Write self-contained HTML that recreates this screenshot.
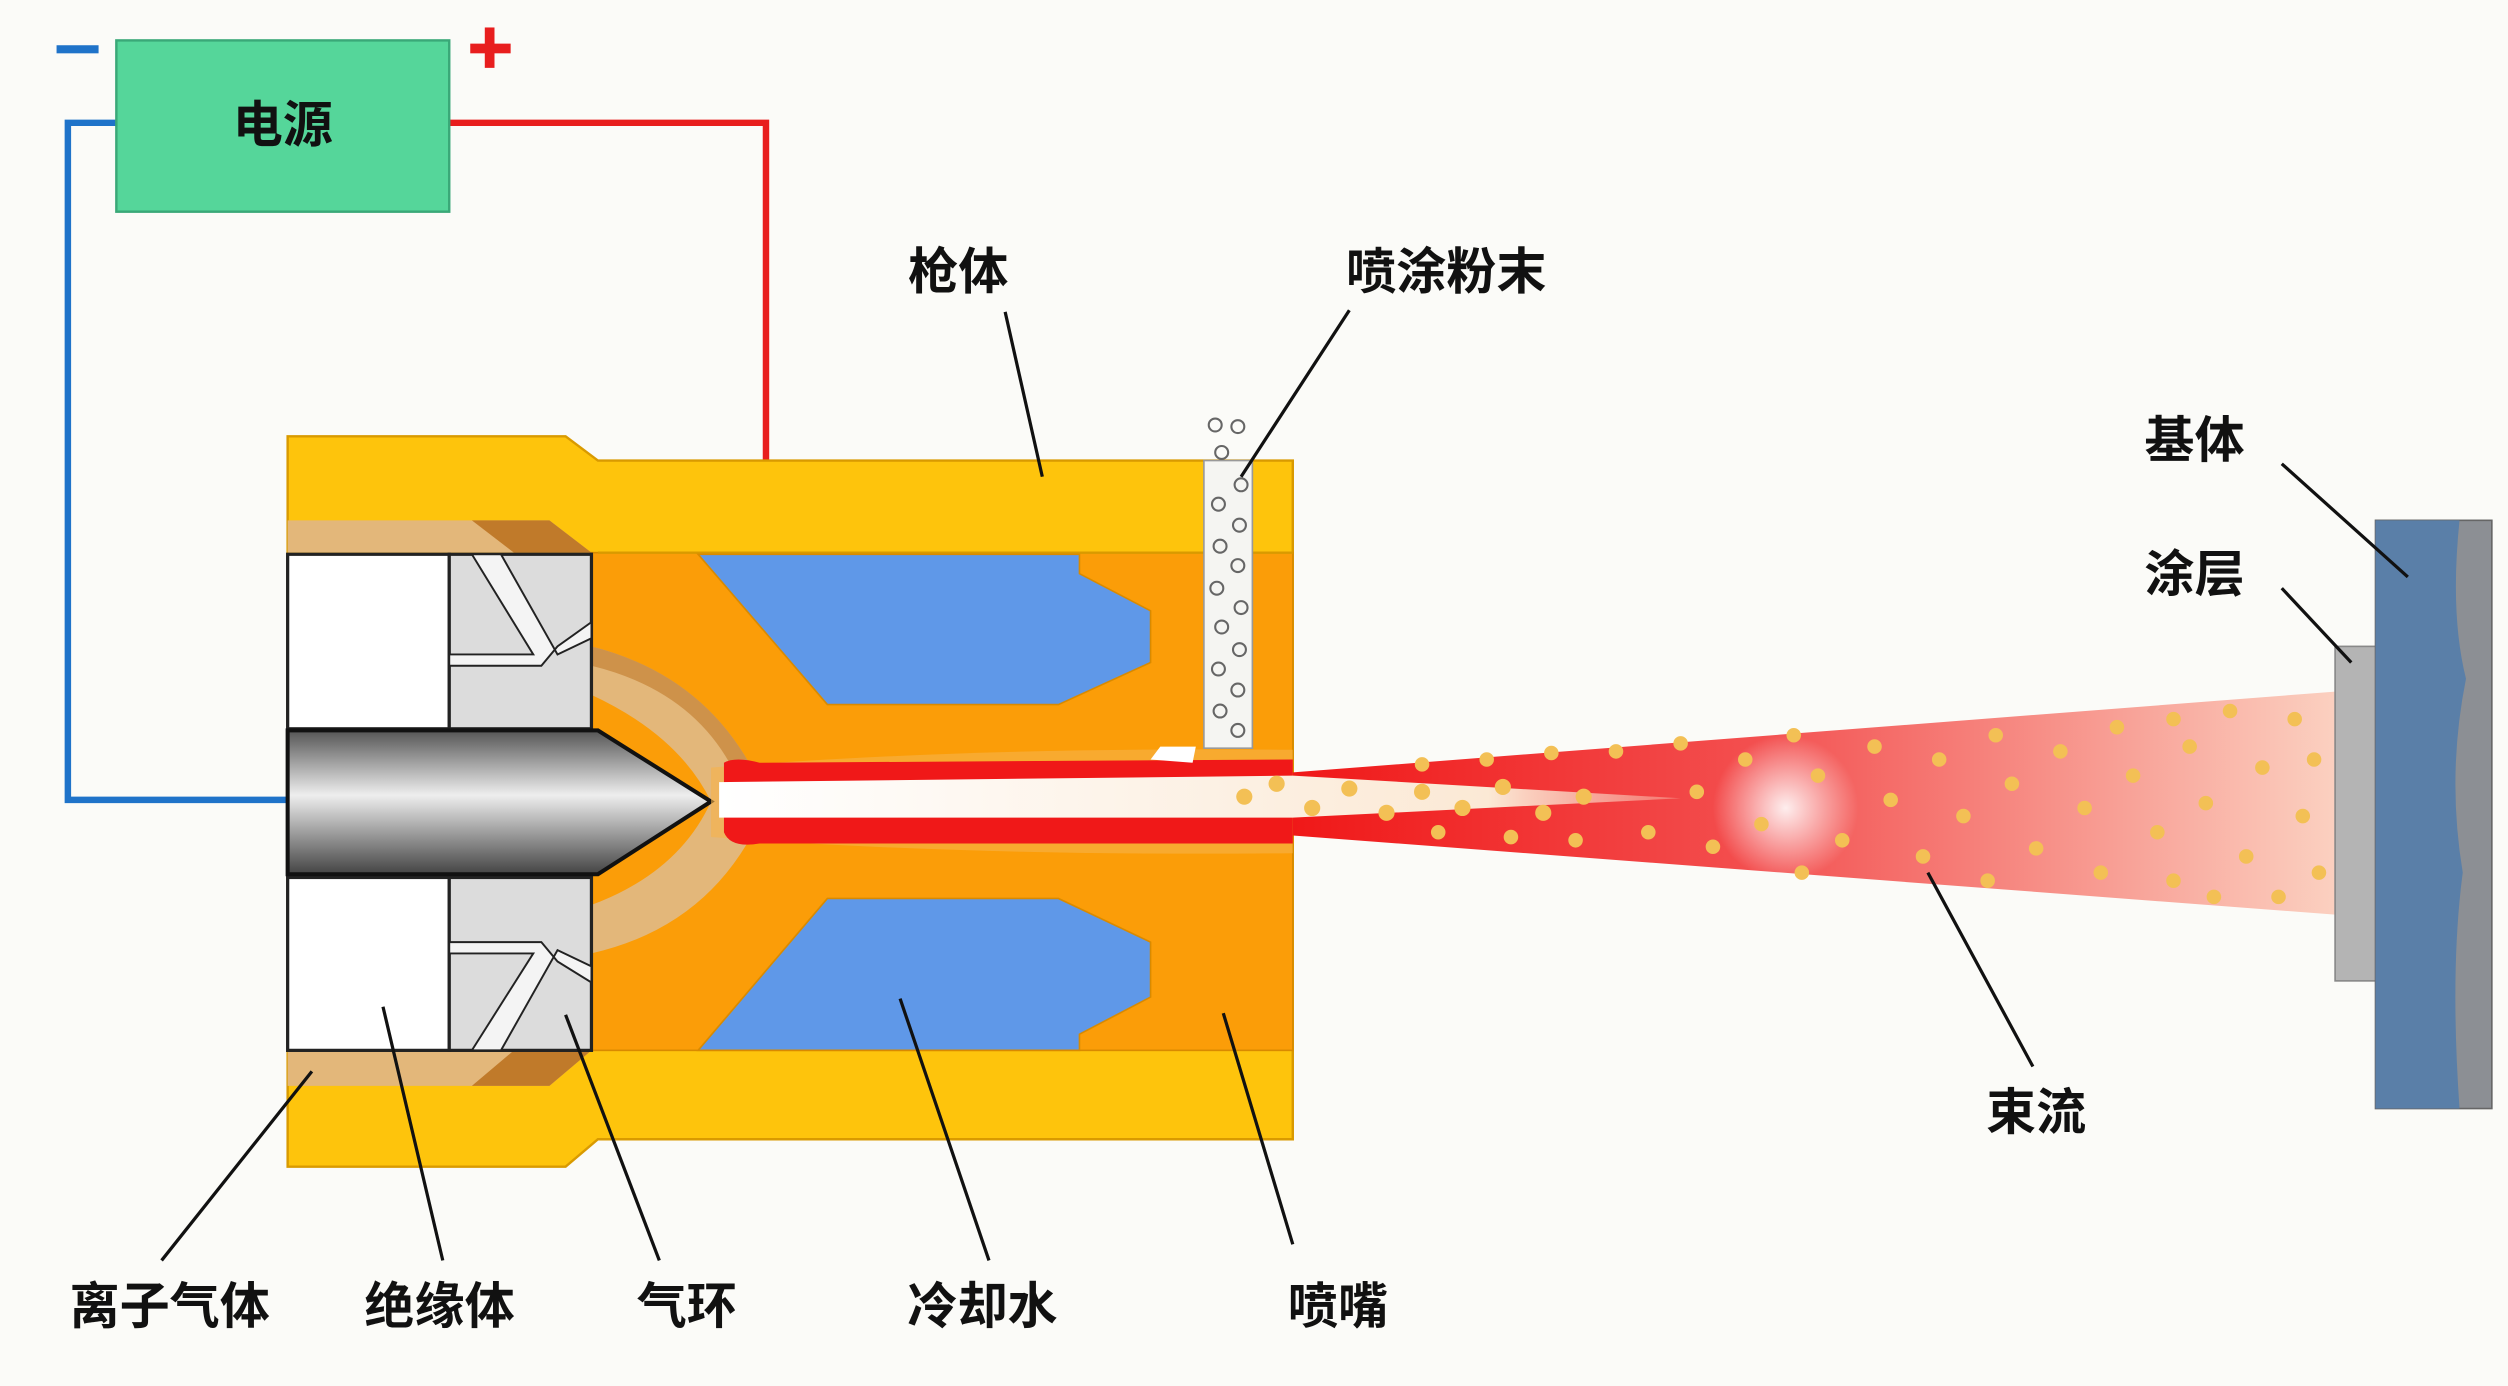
<!DOCTYPE html>
<html><head><meta charset="utf-8"><style>
html,body{margin:0;padding:0;background:#fbfbf8;}
svg{display:block;}
text{font-family:"Liberation Sans","Noto Sans CJK SC",sans-serif;font-weight:bold;fill:#111;font-size:31px;}
</style></head><body>
<svg width="2508" height="1386" viewBox="0 0 1552 857.7" preserveAspectRatio="none" xmlns="http://www.w3.org/2000/svg">
<defs>
<linearGradient id="cath" x1="0" y1="0" x2="0" y2="1">
<stop offset="0" stop-color="#555"/><stop offset="0.45" stop-color="#eee"/><stop offset="1" stop-color="#444"/></linearGradient>
<linearGradient id="plume" x1="0" y1="0" x2="1" y2="0">
<stop offset="0" stop-color="#f01818"/><stop offset="0.45" stop-color="#f35050"/><stop offset="1" stop-color="#fbd0c0"/></linearGradient>
<radialGradient id="glow"><stop offset="0" stop-color="#fff" stop-opacity="0.9"/><stop offset="1" stop-color="#fff" stop-opacity="0"/></radialGradient>
<linearGradient id="jet" x1="0" y1="0" x2="1" y2="0">
<stop offset="0" stop-color="#fff"/><stop offset="0.8" stop-color="#fbe9d5"/><stop offset="1" stop-color="#fbe9d5" stop-opacity="0.3"/></linearGradient>
</defs>
<rect width="1552" height="858" fill="#fbfbf8"/>
<path d="M278 76 H474 V286" fill="none" stroke="#e81e1e" stroke-width="4"/>
<path d="M72 76 H42 V495 H180" fill="none" stroke="#1f73c9" stroke-width="4"/>
<rect x="72" y="25" width="206" height="106" fill="#55d69a" stroke="#3aa878" stroke-width="1.5"/>
<text x="175" y="88" text-anchor="middle" font-size="32">电源</text>
<rect x="35" y="28" width="26" height="5" fill="#1f73c9"/>
<rect x="291" y="27" width="25" height="6" fill="#e81e1e"/><rect x="300" y="17" width="6" height="25" fill="#e81e1e"/>
<path d="M178 270 H350 L370 285 H800 V705 H370 L350 722 H178 Z" fill="#fec40c" stroke="#d99a00" stroke-width="1.5"/>
<rect x="365" y="342" width="435" height="308" fill="#fb9d08" stroke="#d98a00" stroke-width="1"/>
<line x1="370" y1="342" x2="800" y2="342" stroke="#d99a00" stroke-width="1.5"/>
<path d="M178 322 H340 L366 342 H178 Z" fill="#e3b77a"/>
<path d="M292 322 H340 L366 342 H318 Z" fill="#c07a2a"/>
<path d="M178 650 H366 L340 672 H178 Z" fill="#e3b77a"/>
<path d="M318 650 H366 L340 672 H292 Z" fill="#c07a2a"/>
<path d="M366 400 Q445 420 475 496 Q445 572 366 590 L366 560 Q420 540 440 496 Q420 455 366 430 Z" fill="#e3b77a"/>
<path d="M366 400 Q445 420 475 496 L462 496 Q440 430 366 412 Z" fill="#c07a2a" opacity="0.6"/>
<rect x="178" y="343" width="100" height="108" fill="#fff" stroke="#222" stroke-width="2"/>
<rect x="178" y="543" width="100" height="107" fill="#fff" stroke="#222" stroke-width="2"/>
<rect x="278" y="343" width="88" height="108" fill="#dcdcdc" stroke="#222" stroke-width="2"/>
<rect x="278" y="543" width="88" height="107" fill="#dcdcdc" stroke="#222" stroke-width="2"/>
<path d="M292 343 L330 405 L278 405 L278 412 L335 412 L345 400 L366 385 L366 395 L345 405 L310 343 Z" fill="#f4f4f4" stroke="#222" stroke-width="1.2"/>
<path d="M292 650 L330 590 L278 590 L278 583 L335 583 L345 595 L366 608 L366 598 L345 588 L310 650 Z" fill="#f4f4f4" stroke="#222" stroke-width="1.2"/>
<path d="M432 343 H668 V355 L712 378 V410 L655 436 H512 Z" fill="#5f98e8" stroke="#d98a00" stroke-width="1"/>
<path d="M512 556 H655 L712 583 V617 L668 640 V650 H432 Z" fill="#5f98e8" stroke="#d98a00" stroke-width="1"/>
<path d="M178 452 H370 L440 496 L370 541 H178 Z" fill="url(#cath)" stroke="#111" stroke-width="2.5"/>
<path d="M800 478 L1445 428 V566 L800 517 Z" fill="url(#plume)"/>
<circle cx="1105" cy="500" r="45" fill="url(#glow)"/>
<path d="M440 475 Q600 462 800 464 L800 528 Q600 530 440 518 Z" fill="#f6b24a" opacity="0.6"/>
<path d="M448 472 Q455 468 470 472 L800 470 L800 522 L470 522 Q452 525 448 515 Z" fill="#f01818"/>
<path d="M445 484 L800 480 L1040 494 L800 506 L445 506 Z" fill="url(#jet)"/>
<path d="M712 470 L718 462 L740 462 L738 472 Z" fill="#fff"/>
<rect x="745" y="285" width="30" height="178" fill="#f5f5f2" stroke="#999" stroke-width="1"/>
<g fill="none" stroke="#666" stroke-width="1.3">
<circle cx="752" cy="263" r="4"/><circle cx="766" cy="264" r="4"/><circle cx="756" cy="280" r="4"/>
<circle cx="768" cy="300" r="4"/><circle cx="754" cy="312" r="4"/><circle cx="767" cy="325" r="4"/><circle cx="755" cy="338" r="4"/>
<circle cx="766" cy="350" r="4"/><circle cx="753" cy="364" r="4"/><circle cx="768" cy="376" r="4"/><circle cx="756" cy="388" r="4"/>
<circle cx="767" cy="402" r="4"/><circle cx="754" cy="414" r="4"/><circle cx="766" cy="427" r="4"/><circle cx="755" cy="440" r="4"/><circle cx="766" cy="452" r="4"/>
</g>
<g fill="#f3c055">
<circle cx="770" cy="493" r="5"/><circle cx="790" cy="485" r="5"/><circle cx="812" cy="500" r="5"/><circle cx="835" cy="488" r="5"/><circle cx="858" cy="503" r="5"/>
<circle cx="880" cy="490" r="5"/><circle cx="905" cy="500" r="5"/><circle cx="930" cy="487" r="5"/><circle cx="955" cy="503" r="5"/><circle cx="980" cy="493" r="5"/>
<circle cx="880" cy="473" r="4.5"/><circle cx="920" cy="470" r="4.5"/><circle cx="960" cy="466" r="4.5"/><circle cx="1000" cy="465" r="4.5"/><circle cx="1040" cy="460" r="4.5"/>
<circle cx="890" cy="515" r="4.5"/><circle cx="935" cy="518" r="4.5"/><circle cx="975" cy="520" r="4.5"/><circle cx="1020" cy="515" r="4.5"/><circle cx="1060" cy="524" r="4.5"/>
<circle cx="1050" cy="490" r="4.5"/><circle cx="1080" cy="470" r="4.5"/><circle cx="1090" cy="510" r="4.5"/><circle cx="1125" cy="480" r="4.5"/><circle cx="1140" cy="520" r="4.5"/>
<circle cx="1160" cy="462" r="4.5"/><circle cx="1170" cy="495" r="4.5"/><circle cx="1190" cy="530" r="4.5"/><circle cx="1200" cy="470" r="4.5"/><circle cx="1215" cy="505" r="4.5"/>
<circle cx="1235" cy="455" r="4.5"/><circle cx="1245" cy="485" r="4.5"/><circle cx="1260" cy="525" r="4.5"/><circle cx="1275" cy="465" r="4.5"/><circle cx="1290" cy="500" r="4.5"/>
<circle cx="1300" cy="540" r="4.5"/><circle cx="1310" cy="450" r="4.5"/><circle cx="1320" cy="480" r="4.5"/><circle cx="1335" cy="515" r="4.5"/><circle cx="1345" cy="545" r="4.5"/>
<circle cx="1355" cy="462" r="4.5"/><circle cx="1365" cy="497" r="4.5"/><circle cx="1380" cy="440" r="4.5"/><circle cx="1390" cy="530" r="4.5"/><circle cx="1400" cy="475" r="4.5"/>
<circle cx="1410" cy="555" r="4.5"/><circle cx="1420" cy="445" r="4.5"/><circle cx="1425" cy="505" r="4.5"/><circle cx="1435" cy="540" r="4.5"/><circle cx="1432" cy="470" r="4.5"/>
<circle cx="1110" cy="455" r="4.5"/><circle cx="1115" cy="540" r="4.5"/><circle cx="1230" cy="545" r="4.5"/><circle cx="1370" cy="555" r="4.5"/><circle cx="1345" cy="445" r="4.5"/>
</g>
<rect x="1445" y="400" width="26" height="207" fill="#b4b4b4" stroke="#888" stroke-width="1"/>
<rect x="1470" y="322" width="72" height="364" fill="#8c8f94" stroke="#666" stroke-width="1"/>
<path d="M1470 322 H1522 Q1516 380 1526 420 Q1514 480 1524 540 Q1516 600 1522 686 H1470 Z" fill="#5a7fa8"/>
<g stroke="#111" stroke-width="2" fill="none">
<line x1="622" y1="193" x2="645" y2="295"/><line x1="835" y1="192" x2="768" y2="295"/>
<line x1="1412" y1="287" x2="1490" y2="357"/><line x1="1412" y1="364" x2="1455" y2="410"/>
<line x1="1258" y1="660" x2="1193" y2="540"/>
<line x1="100" y1="780" x2="193" y2="663"/><line x1="274" y1="780" x2="237" y2="623"/>
<line x1="408" y1="780" x2="350" y2="628"/><line x1="612" y1="780" x2="557" y2="618"/>
<line x1="800" y1="770" x2="757" y2="627"/>
</g>
<text x="593" y="179" text-anchor="middle">枪体</text>
<text x="895" y="179" text-anchor="middle">喷涂粉末</text>
<text x="1358" y="283" text-anchor="middle">基体</text>
<text x="1358" y="366" text-anchor="middle">涂层</text>
<text x="1260" y="699" text-anchor="middle">束流</text>
<text x="105" y="819" text-anchor="middle">离子气体</text>
<text x="272" y="819" text-anchor="middle">绝缘体</text>
<text x="425" y="819" text-anchor="middle">气环</text>
<text x="608" y="819" text-anchor="middle">冷却水</text>
<text x="828" y="819" text-anchor="middle">喷嘴</text>
</svg>
</body></html>
